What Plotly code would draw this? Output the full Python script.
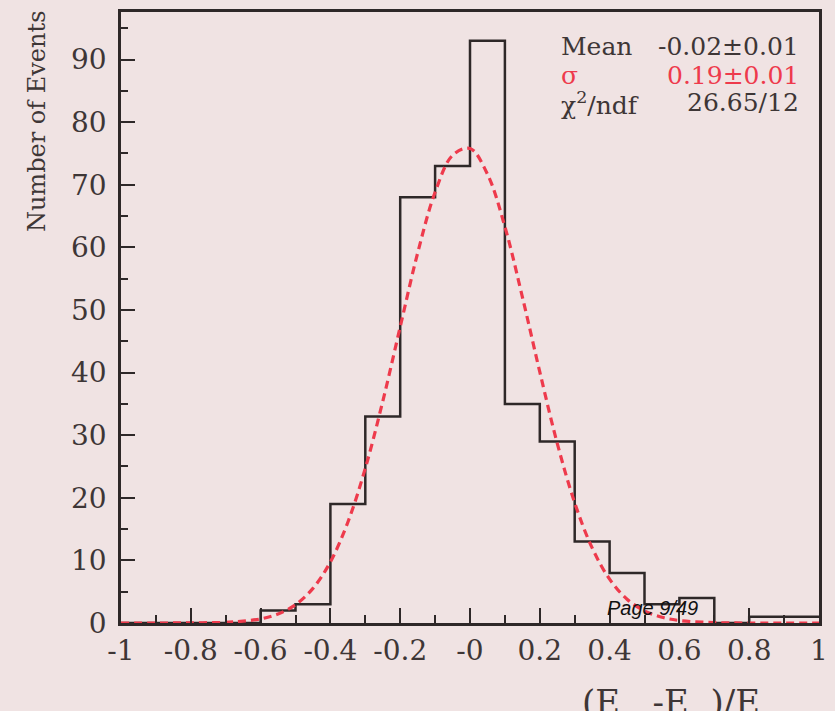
import plotly.graph_objects as go

# ---- data ----
bin_edges = [-1.0, -0.9, -0.8, -0.7, -0.6, -0.5, -0.4, -0.3, -0.2, -0.1, 0.0,
             0.1, 0.2, 0.3, 0.4, 0.5, 0.6, 0.7, 0.8, 0.9, 1.0]
counts = [0, 0, 0, 0, 2, 3, 19, 33, 68, 73, 93, 35, 29, 13, 8, 3, 4, 0, 1, 1]

fit_x = [-1.0, -0.9, -0.8, -0.7, -0.65, -0.6, -0.55, -0.5, -0.45, -0.4, -0.35,
         -0.3, -0.25, -0.2, -0.15, -0.1, -0.05, 0.0, 0.05, 0.1, 0.15, 0.2,
         0.25, 0.3, 0.35, 0.4, 0.45, 0.5, 0.55, 0.6, 0.7, 0.8, 0.9, 1.0]
fit_y = [0.0, 0.0, 0.02, 0.11, 0.29, 0.66, 1.44, 2.92, 5.53, 9.76, 16.1,
         24.7, 35.4, 47.3, 59.1, 68.8, 74.7, 75.8, 71.7, 63.3, 52.1, 40.1,
         28.7, 19.2, 12.0, 7.0, 3.8, 1.93, 0.91, 0.40, 0.06, 0.0, 0.0, 0.0]

x_tick_vals = [-1, -0.8, -0.6, -0.4, -0.2, 0, 0.2, 0.4, 0.6, 0.8, 1]
x_tick_text = ["-1", "-0.8", "-0.6", "-0.4", "-0.2", "-0", "0.2", "0.4", "0.6", "0.8", "1"]
y_tick_vals = [0, 10, 20, 30, 40, 50, 60, 70, 80, 90]
y_tick_text = [str(v) for v in y_tick_vals]

stats_labels = ["Mean", "σ", "χ<sup>2</sup>/ndf"]
stats_values = ["-0.02±0.01", "0.19±0.01", "26.65/12"]

# ---- styles ----
BG = "#f0e3e3"
INK = "#2e2828"
TXT = "#3e3636"
RED = "#ee3a4c"
SERIF = "DejaVu Serif"

hist_x = bin_edges[:-1] + [bin_edges[-1]]
hist_y = counts + [counts[-1]]

fig = go.Figure()
fig.add_trace(go.Scatter(x=hist_x, y=hist_y, mode="lines",
                         line=dict(shape="hv", color=INK, width=2.5),
                         showlegend=False, hoverinfo="skip"))
fig.add_trace(go.Scatter(x=fit_x, y=fit_y, mode="lines",
                         line=dict(shape="spline", color=RED, width=3.2, dash="8px,5px"),
                         showlegend=False, hoverinfo="skip"))

axis_common = dict(showline=True, mirror=True, linecolor=INK, linewidth=2.5,
                   showgrid=False, zeroline=False, ticks="inside",
                   tickcolor=INK, tickwidth=1.5,
                   tickfont=dict(family=SERIF, size=28, color=TXT))

fig.update_xaxes(range=[-1, 1], tickmode="array", tickvals=x_tick_vals,
                 ticktext=x_tick_text, ticklen=15, ticklabelstandoff=1,
                 minor=dict(ticks="inside", tick0=0, dtick=0.1, ticklen=8,
                            tickcolor=INK, tickwidth=1.5),
                 **axis_common)
fig.update_yaxes(range=[0, 97.6], tickmode="array", tickvals=y_tick_vals,
                 ticktext=y_tick_text, ticklen=14, ticklabelstandoff=6,
                 minor=dict(ticks="inside", tick0=0, dtick=5, ticklen=7,
                            tickcolor=INK, tickwidth=1.5),
                 **axis_common)

L, R, T, B = 121, 7, 12, 88
W, H = 835, 711
pw, ph = W - L - R, H - T - B


def px(x):
    return (x - L) / pw


def py(y):
    return (H - B - y) / ph


ann = []
ann.append(dict(text="Number of Events", textangle=-90, xref="paper", yref="paper",
                x=px(36), y=py(8), xanchor="center", yanchor="top",
                font=dict(family=SERIF, size=24, color=TXT), showarrow=False))
rows_y = [46, 76, 104]
for i, (lab, val) in enumerate(zip(stats_labels, stats_values)):
    col = RED if i == 1 else TXT
    ann.append(dict(text=lab, xref="paper", yref="paper", x=px(565), y=py(rows_y[i]),
                    xanchor="left", yanchor="middle",
                    font=dict(family=SERIF, size=25, color=col), showarrow=False))
    ann.append(dict(text=val, xref="paper", yref="paper", x=px(810), y=py(rows_y[i] - (2 if i == 2 else 0)),
                    xanchor="right", yanchor="middle",
                    font=dict(family=SERIF, size=25, color=col), showarrow=False))
ann.append(dict(text="Page 9/49", xref="paper", yref="paper", x=px(611), y=py(608),
                xanchor="left", yanchor="middle",
                font=dict(family="Liberation Sans", size=20, color="#111111", style="italic"),
                showarrow=False))
ann.append(dict(text="(E\u00a0\u00a0\u00a0-E\u00a0\u00a0)/E", xref="paper", yref="paper",
                x=px(586), y=py(680), xanchor="left", yanchor="top",
                font=dict(family=SERIF, size=34, color=TXT), showarrow=False))

fig.update_layout(width=W, height=H, margin=dict(l=L, r=R, t=T, b=B, pad=0),
                  paper_bgcolor=BG, plot_bgcolor=BG, annotations=ann,
                  showlegend=False)

fig.write_html("out.html")
